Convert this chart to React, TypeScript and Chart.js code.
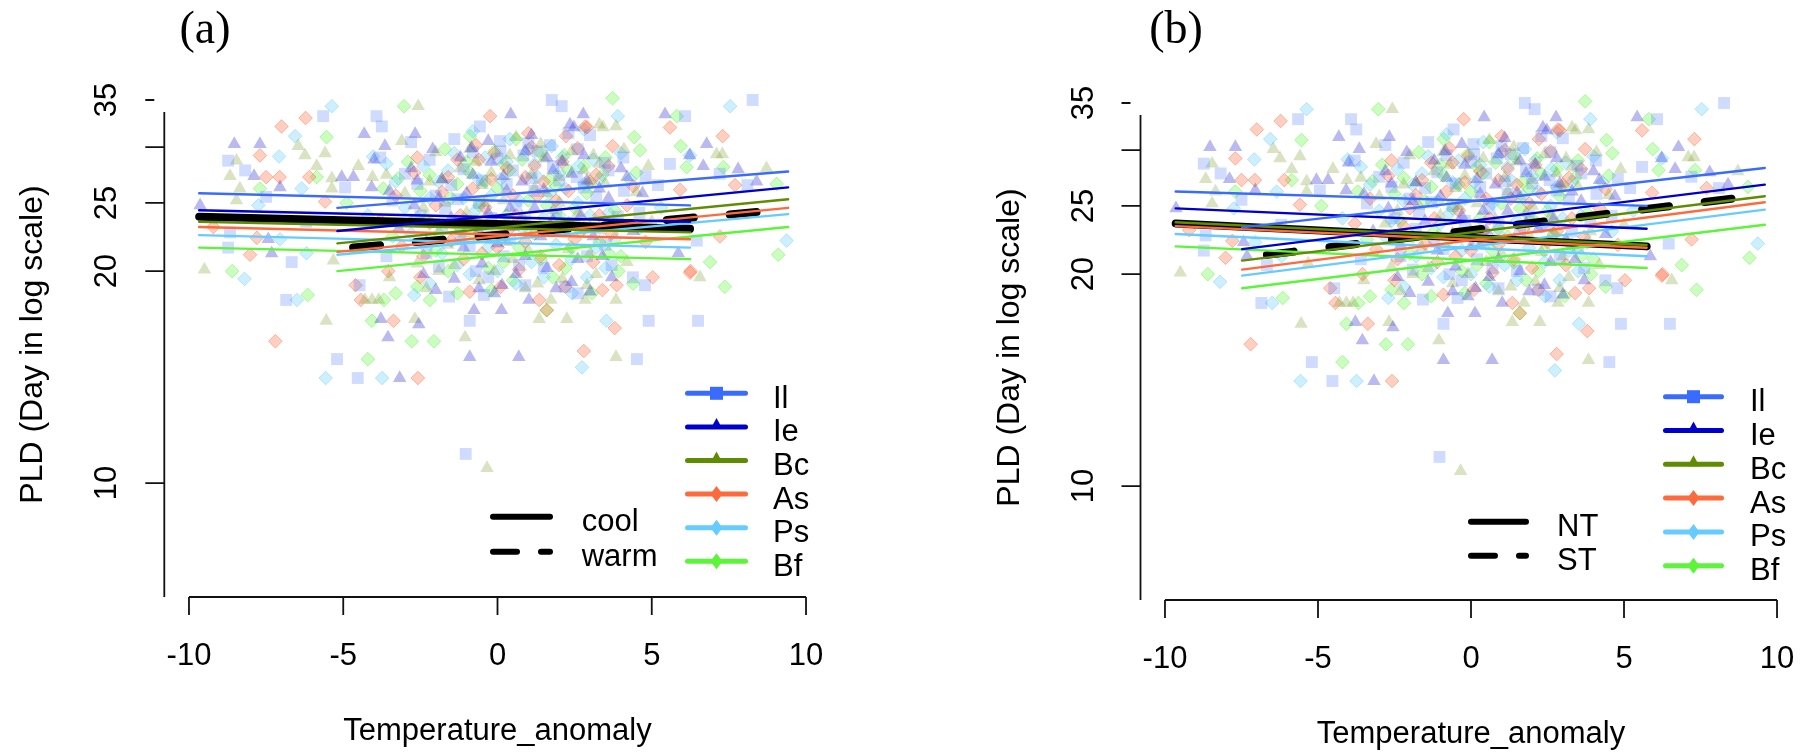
import React, { useEffect, useRef } from "react";
import { Chart, registerables } from "chart.js";

Chart.register(...registerables);

// ---------------- axes ----------------
const X_MIN = -10.8;
const X_MAX = 10.8;
const Y_MIN = 6.89;
const Y_MAX = 35;
const X_TICKS = [-10, -5, 0, 5, 10];
const X_TICK_LABELS = ["-10", "-5", "0", "5", "10"];
const Y_TICKS = [10, 20, 25, 30, 35];
const Y_TICK_LABELS = ["10", "20", "25", "", "35"];
const X_TITLE = "Temperature_anomaly";
const Y_TITLE = "PLD (Day in log scale)";

// ---------------- species ----------------
const SPECIES = ["Il", "Ie", "Bc", "As", "Ps", "Bf"];
const COLORS = ["#3A6BFF", "#0000CD", "#5F8C00", "#FF6A3D", "#66CCFF", "#5CF53A"];
const POINT_STYLES = ["rect", "triangle", "triangle", "rectRot", "rectRot", "rectRot"];
const POINT_RADIUS = [8.4, 7.8, 7.8, 6.8, 6.8, 6.8];
const POINT_ALPHA = [0.24, 0.27, 0.24, 0.32, 0.32, 0.32];

// ---------------- observations [temperature anomaly, PLD] ----------------
const IL_PTS = [[-6.85,18.2],[-5.2,15.0],[-4.53,14.1],[4.52,15.0],[4.9,17.0],[6.5,17.0],[-0.9,17.0],[-4.47,19.1],[-1.57,18.4],[-0.44,18.5],[4.39,19.6],[4.78,19.1],[-1.03,11.0],[-5.65,33.2],[-3.92,33.2],[-3.75,32.1],[-0.57,32.1],[-8.73,28.7],[-8.18,27.8],[-4.94,26.3],[-8.67,22.7],[-8.73,21.6],[-6.67,20.6],[1.76,35.0],[2.08,34.3],[8.27,35.0],[6.08,33.2],[0.08,30.6],[0.84,29.2],[3.48,28.5],[4.08,29.0],[5.59,28.4],[2.57,27.2],[6.46,22.1],[-3.0,27.5],[-2.2,28.8],[-1.5,26.5],[-0.8,29.5],[0.5,27.8],[1.2,26.0],[1.8,28.2],[2.6,29.8],[3.2,25.5],[-2.5,24.0],[-1.2,22.5],[0.2,21.0],[1.5,20.2],[-0.3,19.6],[2.2,19.0],[3.5,21.8],[4.6,24.2],[-3.6,21.0],[0.9,23.6],[-1.9,20.3],[5.2,26.5],[7.2,27.5],[8.1,26.5],[-7.5,25.5],[-6.2,23.5],[3.0,31.2],[-2.8,30.5],
  [-3.4,25.2],[-2.6,26.6],[-1.8,23.2],[-1.1,27.9],[-0.6,25.0],[0.0,28.9],[0.6,24.8],[1.0,30.4],[1.6,22.8],[2.0,26.9],[2.5,23.4],[2.9,21.0],[3.6,27.8],[4.1,26.0],[-0.2,23.8],[0.7,20.4],[-2.0,25.6],[1.3,29.6],[-1.4,30.8],[3.9,23.9],[-3.8,29.0],[4.8,27.3],[0.3,26.6],[-0.9,21.7],[2.3,31.4],
  [-1.7,24.6],[-0.5,26.9],[0.4,22.2],[1.1,27.1],[1.9,24.2],[2.8,26.3],[3.3,23.0],[-2.3,21.2],[-0.7,20.0],[0.9,19.1],[2.6,18.6],[-1.3,25.3],[0.1,29.6],[1.7,30.2],[3.7,20.4]];
const IE_PTS = [[-3.55,16.1],[-0.9,15.1],[0.69,15.1],[-3.17,14.1],[-0.76,17.6],[0.13,17.6],[-3.78,17.1],[-2.55,16.8],[0.15,19.1],[1.02,18.2],[5.86,21.2],[-4.32,31.3],[-2.67,31.3],[-8.53,30.3],[-7.7,30.3],[-3.65,30.1],[-0.84,29.9],[-7.89,27.3],[-5.05,27.2],[-4.67,27.2],[-7.05,26.3],[-4.08,26.3],[-9.64,24.8],[-7.43,22.2],[-7.32,21.2],[0.43,33.4],[2.78,33.4],[5.43,33.4],[2.35,32.3],[6.78,30.3],[6.67,28.2],[7.8,27.9],[8.4,26.8],[6.23,29.2],[2.48,32.0],[-2.8,28.0],[-1.8,27.0],[-1.0,25.8],[-0.2,28.6],[0.8,26.8],[1.6,29.0],[2.4,27.5],[3.3,26.2],[4.0,28.0],[-2.3,22.0],[-1.4,19.5],[-0.5,20.5],[0.6,19.8],[1.4,22.4],[2.6,20.8],[3.7,19.6],[-3.2,23.0],[4.4,22.8],[-0.1,18.6],[-2.0,18.8],[1.9,18.9],
  [-3.5,26.0],[-2.7,24.8],[-2.1,29.8],[-1.5,23.8],[-0.8,27.4],[-0.3,24.2],[0.3,26.0],[0.9,29.6],[1.2,24.6],[1.8,27.8],[2.2,23.2],[2.8,29.2],[3.1,22.4],[3.6,25.4],[4.2,27.2],[-1.1,21.6],[0.0,21.9],[0.5,23.1],[1.6,20.2],[2.9,26.9],[-2.4,19.8],[-0.6,18.9],[4.7,25.8],[-4.0,28.8],[1.1,31.2],
  [-1.9,25.4],[-0.6,22.8],[0.2,27.3],[0.9,21.0],[1.5,26.1],[2.1,28.6],[2.7,24.0],[3.4,21.0],[-2.6,26.9],[-1.2,29.0],[0.4,24.6],[1.8,23.6],[2.4,19.3],[-0.3,30.6],[3.0,18.7]];
const BC_PTS = [[-9.5,20.1],[-5.55,17.0],[-1.05,16.1],[3.84,15.1],[1.35,17.1],[2.25,17.1],[-2.68,17.1],[-4.07,18.2],[-4.3,18.2],[-3.85,18.2],[1.73,18.2],[2.84,18.2],[3.84,18.2],[6.56,19.6],[-0.34,10.5],[-2.57,34.3],[-6.46,30.1],[-8.46,28.7],[-6.24,29.2],[-5.59,29.4],[-5.86,28.2],[-4.51,28.2],[-8.67,27.3],[-5.37,27.1],[-4.05,27.2],[-8.35,26.2],[-5.37,26.2],[-8.46,25.2],[-5.32,20.7],[3.3,32.3],[3.84,32.1],[3.11,29.2],[7.1,29.3],[4.89,28.2],[8.72,28.0],[7.29,29.3],[3.42,32.0],[-3.0,25.8],[-2.0,29.5],[-1.2,28.0],[-0.5,26.5],[0.4,29.2],[1.1,27.4],[2.0,25.0],[2.8,27.8],[-2.6,20.5],[-1.6,21.8],[-0.6,19.4],[0.5,20.8],[1.3,19.2],[2.3,21.5],[3.2,19.8],[4.2,20.6],[-3.5,19.6],[0.0,23.0],[5.0,23.5],[-1.0,24.2],
  [-3.6,27.4],[-2.8,23.6],[-2.2,26.8],[-1.7,25.0],[-0.9,29.8],[-0.2,27.6],[0.2,25.2],[0.8,23.9],[1.5,28.9],[1.9,22.7],[2.4,29.6],[2.6,24.2],[3.5,26.6],[3.9,23.0],[4.5,25.9],[-1.4,20.4],[-0.1,20.0],[1.0,21.4],[2.1,19.5],[3.0,21.2],[-3.1,30.6],[0.6,31.0],[4.1,29.8],[-2.3,18.9],[1.6,25.8],
  [-1.8,27.0],[-0.4,25.0],[0.3,22.0],[1.2,26.2],[1.8,24.4],[2.7,22.9],[3.3,28.4],[-2.4,24.6],[-1.1,22.6],[0.9,18.9],[2.0,27.2],[-0.7,28.6],[1.4,30.3],[2.9,19.1],[-1.9,20.0]];
const AS_PTS = [[-7.2,15.9],[-3.37,17.0],[-2.58,14.1],[2.8,15.4],[3.8,16.6],[1.35,18.2],[-4.43,18.2],[-4.6,19.1],[3.86,19.1],[5.03,19.6],[6.24,19.9],[-6.22,33.0],[-7.0,32.1],[-0.24,33.2],[-7.7,29.2],[-7.5,27.2],[-7.06,27.2],[-6.1,27.2],[-5.59,25.1],[-9.21,23.1],[-7.8,22.3],[-8.02,21.1],[-3.54,20.0],[2.84,32.1],[5.59,32.0],[2.22,31.1],[7.3,31.1],[1.11,30.0],[3.73,30.1],[5.92,26.1],[7.7,26.5],[7.21,22.4],[6.26,20.0],[2.9,32.0],[-2.6,29.0],[-1.6,27.2],[-0.7,30.2],[0.3,28.0],[1.3,25.6],[2.1,28.6],[3.0,26.8],[-2.2,23.4],[-1.1,20.8],[0.1,19.0],[0.9,22.0],[2.0,20.4],[3.4,18.8],[-3.1,21.7],[4.2,24.8],[-0.4,24.6],[1.6,17.6],
  [-3.3,25.6],[-2.7,27.6],[-2.0,24.8],[-1.3,28.8],[-0.8,26.2],[-0.1,29.4],[0.5,25.6],[0.9,27.2],[1.7,23.2],[2.3,26.0],[2.6,29.9],[3.3,24.0],[3.6,28.2],[4.4,26.4],[-1.5,22.1],[-0.5,21.2],[0.4,23.0],[1.4,21.0],[2.5,22.2],[3.1,20.6],[-2.5,19.6],[-0.9,18.7],[4.8,22.0],[-3.8,23.6],[1.0,31.4],
  [-1.8,25.9],[-0.2,27.0],[0.6,24.0],[1.2,28.2],[1.9,25.2],[2.8,23.0],[3.2,27.4],[-2.4,21.0],[-1.2,24.0],[0.7,20.1],[2.2,19.0],[-0.6,28.8],[1.5,26.8],[3.7,22.6],[0.0,21.6]];
const PS_PTS = [[-8.2,19.5],[-6.5,18.2],[-5.57,14.1],[-3.74,14.1],[2.74,14.6],[3.53,17.0],[-2.7,18.5],[2.42,18.6],[-5.37,34.3],[-6.56,31.1],[-7.08,29.1],[-4.03,29.1],[-6.35,26.2],[-7.75,24.8],[-7.05,22.2],[-6.19,21.2],[7.54,34.3],[3.9,33.2],[1.76,30.1],[6.24,29.2],[2.62,28.2],[9.37,22.1],[-3.3,26.8],[-2.4,28.2],[-1.4,29.4],[-0.6,27.0],[0.4,30.8],[1.2,28.4],[2.2,26.2],[3.1,28.8],[4.3,27.0],[-2.8,22.6],[-1.8,21.2],[-0.9,19.8],[0.2,22.4],[1.1,20.6],[1.9,21.8],[2.9,19.6],[3.8,22.2],[-0.2,25.6],[-4.2,24.0],[5.3,24.6],
  [-3.6,28.4],[-3.0,24.6],[-2.2,25.4],[-1.6,27.8],[-1.0,23.6],[-0.4,29.0],[0.1,27.0],[0.7,25.2],[1.0,29.8],[1.5,23.8],[2.0,27.6],[2.6,25.0],[3.3,27.0],[3.6,24.2],[4.0,29.4],[-1.3,20.4],[-0.3,21.6],[0.6,19.2],[1.5,19.6],[2.4,20.8],[3.2,21.6],[-2.2,19.2],[4.6,23.0],[-0.8,31.6],[2.8,31.8],
  [-1.9,26.8],[-0.7,24.4],[0.3,28.6],[0.9,22.8],[1.7,25.8],[2.3,23.4],[2.8,26.6],[3.5,20.2],[-2.6,23.8],[-1.1,25.4],[0.0,20.0],[1.3,27.2],[2.1,29.0],[-0.3,22.6],[3.0,24.0]];
const BF_PTS = [[-8.6,20.0],[-6.15,18.5],[-4.2,15.0],[-2.78,15.9],[-2.06,15.9],[1.59,17.6],[-4.07,17.0],[-3.68,18.2],[-2.19,18.2],[-3.3,18.6],[-1.3,18.6],[3.06,18.6],[7.37,19.0],[-3.03,34.3],[-5.54,31.0],[-0.89,31.1],[-5.86,27.2],[-7.7,26.2],[-4.89,25.0],[-3.22,27.1],[3.73,35.2],[5.81,33.2],[4.43,31.0],[5.94,30.1],[2.16,29.2],[4.62,29.7],[6.13,28.1],[7.32,28.1],[9.05,26.6],[9.1,21.1],[6.89,20.6],[3.92,20.0],[-2.5,26.0],[-1.7,29.8],[-0.9,27.6],[0.0,26.2],[0.8,28.8],[1.7,27.0],[2.5,24.6],[3.4,27.4],[-2.0,21.4],[-1.2,23.0],[-0.3,20.2],[0.7,21.6],[1.8,19.6],[2.7,22.8],[-3.4,22.4],[4.0,21.0],[0.3,24.0],
  [-3.7,26.2],[-2.9,28.6],[-2.3,23.8],[-1.5,25.4],[-1.0,28.6],[-0.4,26.8],[0.4,27.8],[1.0,25.2],[1.4,29.4],[2.0,24.0],[2.3,27.8],[2.9,25.8],[3.5,29.0],[3.8,24.4],[4.5,27.6],[-1.6,20.0],[-0.7,22.4],[0.2,20.6],[1.2,22.6],[2.2,20.2],[3.3,22.0],[-2.6,19.0],[-0.2,18.8],[4.4,19.2],[0.6,30.8],
  [-1.9,22.6],[-0.6,24.8],[0.2,28.4],[0.9,23.2],[1.6,24.8],[2.4,21.6],[3.0,26.6],[-2.2,27.4],[-1.3,26.6],[0.5,19.4],[1.4,20.8],[2.8,28.2],[-0.1,29.6],[3.6,21.2],[1.9,26.4]];
const POINTS = [IL_PTS, IE_PTS, BC_PTS, AS_PTS, PS_PTS, BF_PTS];

// ---------------- fitted lines, panel (a): cool / warm ----------------
const A_COOL_X = [-9.67, 6.24];
const A_WARM_X = [-5.19, 9.42];
const A_COOL_START = [25.8, 24.4, 23.5, 23.1, 22.5, 21.6];
const A_COOL_END = [24.8, 23.5, 22.7, 22.2, 21.6, 20.8];
const A_WARM_START = [24.6, 22.8, 21.9, 21.3, 21.1, 20.0];
const A_WARM_END = [27.7, 26.3, 25.3, 24.6, 24.1, 23.1];
const A_BLACK_COOL_X = [-9.67, 6.24];
const A_BLACK_COOL = [23.9, 22.97];
const A_BLACK_WARM_X = [-4.68, 9.03];
const A_BLACK_WARM = [21.6, 24.4];

// ---------------- fitted lines, panel (b): NT / ST ----------------
const B_NT_X = [-9.65, 5.74];
const B_ST_X = [-7.48, 9.6];
const B_NT_START = [26.2, 24.8, 23.7, 23.4, 22.8, 21.9];
const B_NT_END = [25.0, 23.2, 22.0, 21.8, 21.2, 20.4];
const B_ST_START = [23.3, 21.7, 20.9, 20.3, 19.9, 19.1];
const B_ST_END = [28.3, 26.8, 25.8, 25.3, 24.7, 23.5];
const B_BLACK_NT_X = [-9.65, 5.74];
const B_BLACK_NT = [23.6, 21.9];
const B_BLACK_ST_X = [-6.67, 9.2];
const B_BLACK_ST = [21.3, 25.8];

const FONT = '31px "Liberation Sans", Arial, sans-serif';
const YT_FONT = '32px "Liberation Sans", Arial, sans-serif';
const TITLE_FONT = '46px "Liberation Serif", "Times New Roman", serif';

function rgba(hex: string, a: number) {
  const n = parseInt(hex.slice(1), 16);
  return `rgba(${(n >> 16) & 255},${(n >> 8) & 255},${n & 255},${a})`;
}

function seg(xs: number[], ys: number[], color: string, width: number, dash: number[], order: number) {
  return {
    data: [{ x: xs[0], y: ys[0] }, { x: xs[1], y: ys[1] }],
    showLine: true,
    borderColor: color,
    backgroundColor: color,
    borderWidth: width,
    borderDash: dash,
    borderCapStyle: "round",
    pointRadius: 0,
    pointHoverRadius: 0,
    fill: false,
    order,
    clip: false,
  };
}

function drawMarker(ctx: CanvasRenderingContext2D, style: string, x: number, y: number, color: string) {
  ctx.fillStyle = color;
  ctx.beginPath();
  if (style === "rect") {
    ctx.rect(x - 6.5, y - 6.5, 13, 13);
  } else if (style === "triangle") {
    ctx.moveTo(x, y - 9);
    ctx.lineTo(x + 6, y + 2);
    ctx.lineTo(x - 6, y + 2);
    ctx.closePath();
  } else {
    ctx.moveTo(x, y - 8);
    ctx.lineTo(x + 6, y);
    ctx.lineTo(x, y + 8);
    ctx.lineTo(x - 6, y);
    ctx.closePath();
  }
  ctx.fill();
}

function makePlugin(p: any) {
  return {
    id: "rPanel",
    afterDraw(chart: any) {
      const ctx: CanvasRenderingContext2D = chart.ctx;
      const a = chart.chartArea;
      const xs = chart.scales.x;
      const ys = chart.scales.y;
      ctx.save();
      ctx.strokeStyle = "#111";
      ctx.fillStyle = "#000";
      ctx.lineWidth = 1.8;
      ctx.lineCap = "butt";
      ctx.setLineDash([]);

      // x axis
      const xL = xs.getPixelForValue(X_TICKS[0]);
      const xR = xs.getPixelForValue(X_TICKS[X_TICKS.length - 1]);
      ctx.beginPath();
      ctx.moveTo(xL, a.bottom);
      ctx.lineTo(xR, a.bottom);
      for (const t of X_TICKS) {
        const px = xs.getPixelForValue(t);
        ctx.moveTo(px, a.bottom);
        ctx.lineTo(px, a.bottom + 18);
      }
      ctx.stroke();
      ctx.font = FONT;
      ctx.textAlign = "center";
      ctx.textBaseline = "alphabetic";
      X_TICKS.forEach((t, i) => ctx.fillText(X_TICK_LABELS[i], xs.getPixelForValue(t), a.bottom + 68));
      ctx.fillText(X_TITLE, xs.getPixelForValue(0), a.bottom + 143);

      // y axis
      const lineTop = a.top + 12;
      ctx.beginPath();
      ctx.moveTo(a.left, lineTop);
      ctx.lineTo(a.left, a.bottom);
      for (const t of Y_TICKS) {
        const py = ys.getPixelForValue(t);
        const inner = py < lineTop ? a.left - 10 : a.left;
        ctx.moveTo(a.left - 19, py);
        ctx.lineTo(inner, py);
      }
      ctx.stroke();
      Y_TICKS.forEach((t, i) => {
        if (!Y_TICK_LABELS[i]) return;
        const py = ys.getPixelForValue(t);
        ctx.save();
        ctx.translate(a.left - 48, py);
        ctx.rotate(-Math.PI / 2);
        ctx.fillText(Y_TICK_LABELS[i], 0, 0);
        ctx.restore();
      });
      ctx.save();
      ctx.font = YT_FONT;
      ctx.translate(a.left - 122, (a.top + a.bottom) / 2 - 4);
      ctx.rotate(-Math.PI / 2);
      ctx.fillText(Y_TITLE, 0, 0);
      ctx.restore();

      // panel title
      ctx.font = TITLE_FONT;
      ctx.textAlign = "center";
      ctx.fillText(p.title, p.titleX, 43);

      // species legend
      const sl = p.speciesLegend;
      SPECIES.forEach((sp, i) => {
        const y = sl.y0 + i * sl.dy;
        ctx.strokeStyle = COLORS[i];
        ctx.lineWidth = 5;
        ctx.lineCap = "round";
        ctx.beginPath();
        ctx.moveTo(sl.x0 + 2.5, y);
        ctx.lineTo(sl.x1 - 2.5, y);
        ctx.stroke();
        drawMarker(ctx, POINT_STYLES[i], (sl.x0 + sl.x1) / 2, y, COLORS[i]);
        ctx.fillStyle = "#000";
        ctx.font = FONT;
        ctx.textAlign = "left";
        ctx.fillText(sp, sl.textX, y + 14.5);
      });

      // type legend
      const tl = p.typeLegend;
      p.typeLabels.forEach((lab: string, i: number) => {
        const y = tl.y0 + i * tl.dy;
        ctx.strokeStyle = "#000";
        ctx.lineWidth = 6;
        ctx.lineCap = "round";
        ctx.setLineDash(i === 0 ? [] : [24, 24]);
        ctx.beginPath();
        ctx.moveTo(tl.x0 + 3, y);
        ctx.lineTo(tl.x1 - 3, y);
        ctx.stroke();
        ctx.setLineDash([]);
        ctx.fillStyle = "#000";
        ctx.font = FONT;
        ctx.textAlign = "left";
        ctx.fillText(lab, tl.textX, y + 14.5);
      });
      ctx.restore();
    },
  };
}

function buildDatasets(p: any) {
  const ds: any[] = [];
  SPECIES.forEach((sp, i) => {
    ds.push({
      label: sp,
      data: POINTS[i].map(([x, y]) => ({ x, y })),
      showLine: false,
      pointStyle: POINT_STYLES[i],
      pointRadius: POINT_RADIUS[i],
      pointHoverRadius: POINT_RADIUS[i],
      backgroundColor: rgba(COLORS[i], POINT_ALPHA[i]),
      borderColor: rgba(COLORS[i], POINT_ALPHA[i] + 0.12),
      borderWidth: i >= 3 ? 1 : 0,
      order: 3,
      clip: false,
    });
  });
  // black overall fits
  ds.push(seg(p.blackSolidX, p.blackSolid, "#000", 8, [], 2));
  ds.push(seg(p.blackDashX, p.blackDash, "#000", 8, [27, 36], 2));
  // species fits
  SPECIES.forEach((sp, i) => {
    ds.push(seg(p.solidX, [p.solidStart[i], p.solidEnd[i]], COLORS[i], 2.4, [], 1));
    ds.push(seg(p.dashX, [p.dashStart[i], p.dashEnd[i]], COLORS[i], 2.4, [], 1));
  });
  return ds;
}

function makeChart(canvas: HTMLCanvasElement, p: any) {
  return new Chart(canvas, {
    type: "scatter",
    data: { datasets: buildDatasets(p) },
    options: {
      animation: false,
      responsive: false,
      devicePixelRatio: 1,
      events: [],
      layout: { padding: p.padding },
      plugins: { legend: { display: false }, tooltip: { enabled: false }, title: { display: false } },
      scales: {
        x: { type: "linear", min: X_MIN, max: X_MAX, display: false },
        y: { type: "logarithmic", min: Y_MIN, max: Y_MAX, display: false },
      },
    },
    plugins: [makePlugin(p)],
  } as any);
}

const PANEL_A = {
  title: "(a)",
  titleX: 205,
  padding: { left: 164.3, right: 74.3, top: 100, bottom: 156 },
  solidX: A_COOL_X, solidStart: A_COOL_START, solidEnd: A_COOL_END,
  dashX: A_WARM_X, dashStart: A_WARM_START, dashEnd: A_WARM_END,
  blackSolidX: A_BLACK_COOL_X, blackSolid: A_BLACK_COOL,
  blackDashX: A_BLACK_WARM_X, blackDash: A_BLACK_WARM,
  typeLabels: ["cool", "warm"],
  speciesLegend: { x0: 685, x1: 748, textX: 773, y0: 393.3, dy: 33.6 },
  typeLegend: { x0: 490, x1: 553, textX: 581.7, y0: 516.7, dy: 35 },
};

const PANEL_B = {
  title: "(b)",
  titleX: 271,
  padding: { left: 235.5, right: 8.5, top: 103, bottom: 153 },
  solidX: B_NT_X, solidStart: B_NT_START, solidEnd: B_NT_END,
  dashX: B_ST_X, dashStart: B_ST_START, dashEnd: B_ST_END,
  blackSolidX: B_BLACK_NT_X, blackSolid: B_BLACK_NT,
  blackDashX: B_BLACK_ST_X, blackDash: B_BLACK_ST,
  typeLabels: ["NT", "ST"],
  speciesLegend: { x0: 758, x1: 819, textX: 845, y0: 396.7, dy: 33.8 },
  typeLegend: { x0: 563, x1: 624, textX: 652, y0: 521.7, dy: 34 },
};

export default function App() {
  const refA = useRef<HTMLCanvasElement>(null);
  const refB = useRef<HTMLCanvasElement>(null);
  useEffect(() => {
    document.body.style.margin = "0";
    const a = makeChart(refA.current!, PANEL_A);
    const b = makeChart(refB.current!, PANEL_B);
    return () => {
      a.destroy();
      b.destroy();
    };
  }, []);
  return (
    <div style={{ position: "relative", width: 1810, height: 753, background: "#fff", overflow: "hidden" }}>
      <canvas ref={refA} width={905} height={753} style={{ position: "absolute", left: 0, top: 0, width: 905, height: 753 }} />
      <canvas ref={refB} width={905} height={753} style={{ position: "absolute", left: 905, top: 0, width: 905, height: 753 }} />
    </div>
  );
}
